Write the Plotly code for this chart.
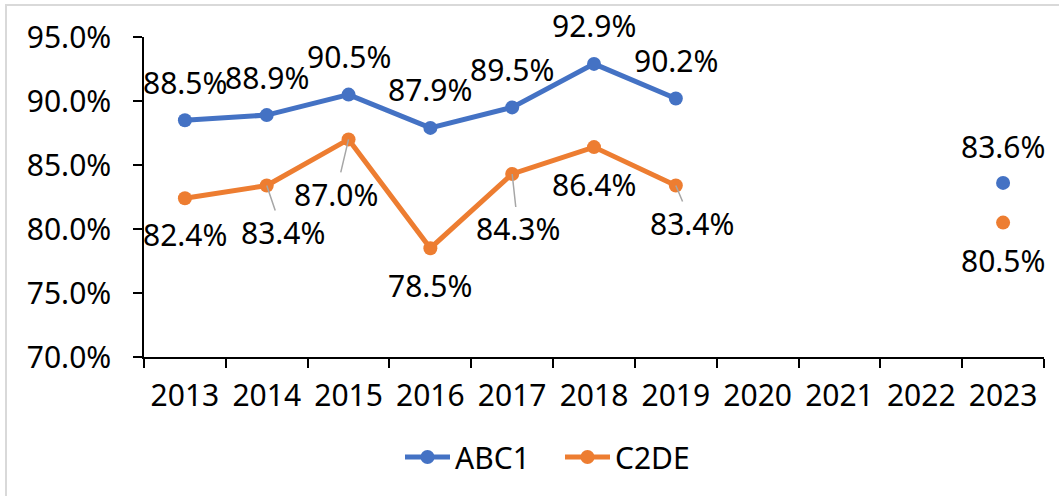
import plotly.graph_objects as go

# ---------------- data ----------------
years = ["2013", "2014", "2015", "2016", "2017", "2018", "2019", "2020", "2021", "2022", "2023"]
abc1 = [88.5, 88.9, 90.5, 87.9, 89.5, 92.9, 90.2, None, None, None, 83.6]
c2de = [82.4, 83.4, 87.0, 78.5, 84.3, 86.4, 83.4, None, None, None, 80.5]
y_ticks = [70, 75, 80, 85, 90, 95]

# ---------------- style ----------------
BLUE = "#4472C4"
ORANGE = "#ED7D31"
FONT = "Noto Sans"
FS = 30

# label offsets in pixels (dx, dy; dy positive = downward), and whether a leader line is drawn
abc1_label_style = {y: (0, -38, False) for y in years}
abc1_label_style["2023"] = (0, -36, False)
c2de_label_style = {
    "2013": (0, 36, False),
    "2014": (16, 47, True),
    "2015": (-13, 55, True),
    "2016": (0, 37, False),
    "2017": (6, 55, True),
    "2018": (0, 37, False),
    "2019": (16, 38, True),
    "2023": (0, 38, False),
}

fig = go.Figure()
for name, vals, color in [("ABC1", abc1, BLUE), ("C2DE", c2de, ORANGE)]:
    fig.add_trace(go.Scatter(
        x=years, y=vals, name=name, mode="lines+markers",
        line=dict(color=color, width=5),
        marker=dict(color=color, size=14),
        connectgaps=False,
    ))

annotations = []
for vals, style in [(abc1, abc1_label_style), (c2de, c2de_label_style)]:
    for i, (yr, v) in enumerate(zip(years, vals)):
        if v is None:
            continue
        dx, dy, leader = style[yr]
        txt = f"{v:.1f}%"
        if leader:
            annotations.append(go.layout.Annotation(
                x=i, y=v, xref="x", yref="y", text=txt, showarrow=True,
                ax=dx, ay=dy, arrowhead=0, arrowwidth=1.5, arrowcolor="#A6A6A6",
                standoff=0,
                font=dict(family=FONT, size=FS, color="black"),
            ))
        else:
            annotations.append(go.layout.Annotation(
                x=i, y=v, xref="x", yref="y", text=txt, showarrow=False,
                xshift=dx, yshift=-dy,
                font=dict(family=FONT, size=FS, color="black"),
            ))

L, R, T, B = 144, 1044, 37, 357
W, H = 1059, 496
pw, ph = R - L, B - T

fig.update_layout(
    width=W, height=H,
    margin=dict(l=L, r=W - R, t=T, b=H - B, pad=0),
    paper_bgcolor="white", plot_bgcolor="white",
    font=dict(family=FONT, size=FS, color="black"),
    showlegend=True,
    legend=dict(orientation="h", x=(560 - L) / pw, xanchor="center",
                y=(B - 457) / ph, yanchor="middle",
                font=dict(family=FONT, size=FS, color="black"),
                itemwidth=45, entrywidth=100, entrywidthmode="pixels",
                bgcolor="rgba(0,0,0,0)"),
    shapes=[dict(type="rect", xref="paper", yref="paper",
                 x0=(6 - L) / pw, x1=(1062 - L) / pw,
                 y0=(B - 500) / ph, y1=(B - 5) / ph,
                 line=dict(color="#D9D9D9", width=2), layer="below")],
)
for a in annotations:
    fig.add_annotation(a)

fig.update_xaxes(
    type="category", categoryorder="array", categoryarray=years,
    range=[-0.5, len(years) - 0.5],
    showline=True, linecolor="black", linewidth=1.5,
    ticks="outside", ticklen=9, tickwidth=1.5, tickcolor="black",
    tickson="boundaries", showgrid=False, zeroline=False,
    tickfont=dict(family=FONT, size=FS, color="black"),
    ticklabelstandoff=11,
)
fig.update_yaxes(
    range=[70, 95], tickvals=y_ticks,
    ticktext=[f"{t:.1f}%" for t in y_ticks],
    showline=True, linecolor="black", linewidth=1.5,
    ticks="outside", ticklen=9, tickwidth=1.5, tickcolor="black",
    showgrid=False, zeroline=False,
    tickfont=dict(family=FONT, size=FS, color="black"),
    ticklabelstandoff=16,
)

fig.write_html("out.html", config={"displayModeBar": False},
               post_script="document.body.style.margin='0px';document.body.style.overflow='hidden';")
